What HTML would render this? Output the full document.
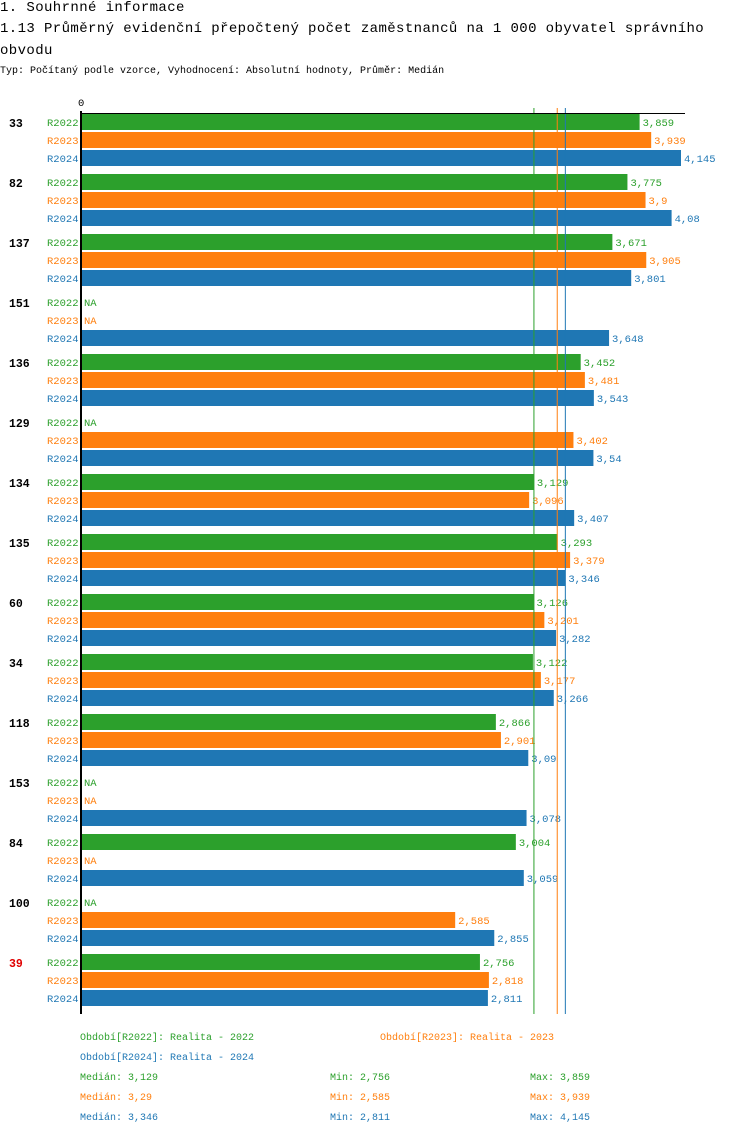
<!DOCTYPE html>
<html><head><meta charset="utf-8"><style>
body{margin:0;background:#fff;width:750px;height:1134px;overflow:hidden;font-family:"Liberation Mono",monospace}
.t{position:absolute;left:0;font-size:14px;letter-spacing:0.4px;color:#000;white-space:nowrap}
</style></head><body>
<div class="t" style="top:0px">1. Souhrnné informace</div>
<div class="t" style="top:21px">1.13 Průměrný evidenční přepočtený počet zaměstnanců na 1 000 obyvatel správního</div>
<div class="t" style="top:43px">obvodu</div>
<div style="position:absolute;left:0;top:66px;font-size:10px;white-space:nowrap">Typ: Počítaný podle vzorce, Vyhodnocení: Absolutní hodnoty, Průměr: Medián</div>
<svg id="chart" width="750" height="1134" style="position:absolute;left:0;top:0" font-family="Liberation Mono, monospace" font-size="10.5"></svg>
<script>
const categories=["33","82","137","151","136","129","134","135","60","34","118","153","84","100","39"];
const series=["R2022","R2023","R2024"];
const v2022=[3.859,3.775,3.671,null,3.452,null,3.129,3.293,3.126,3.122,2.866,null,3.004,null,2.756];
const v2023=[3.939,3.9,3.905,null,3.481,3.402,3.096,3.379,3.201,3.177,2.901,null,null,2.585,2.818];
const v2024=[4.145,4.08,3.801,3.648,3.543,3.54,3.407,3.346,3.282,3.266,3.09,3.078,3.059,2.855,2.811];
const medians=[3.129,3.29,3.346];
const mins=["2,756","2,585","2,811"];
const maxs=["3,859","3,939","4,145"];
const medLabels=["3,129","3,29","3,346"];
const periodNames=["Realita - 2022","Realita - 2023","Realita - 2024"];
const highlighted="39";
const colors=["#2ca02c","#ff7f0e","#1f77b4"];
const data=[v2022,v2023,v2024];
const svg=document.getElementById('chart');
const NS="http://www.w3.org/2000/svg";
const x0=81,maxV=4.145,pxMax=600;
const xs=v=>x0+v/maxV*pxMax;
const gy=i=>114+i*60;
function mk(tag,attrs,txt){const e=document.createElementNS(NS,tag);for(const k in attrs)e.setAttribute(k,attrs[k]);if(txt!=null)e.textContent=txt;svg.appendChild(e);return e;}
const fmt=v=>String(v).replace('.',',');
categories.forEach((c,i)=>{
  const t=mk('text',{x:9,y:gy(i)+13,'font-weight':'bold','font-size':11.5,fill:c===highlighted?'#e00000':'#000'},c);
  
  
  series.forEach((s,k)=>{
    const y=gy(i)+k*18;
    const l=mk('text',{x:47,y:y+12,fill:colors[k]},s);
    
    
    const v=data[k][i];
    if(v==null){
      const n=mk('text',{x:84,y:y+12,fill:colors[k]},'NA');
      
      
    }else{
      const r=mk('rect',{x:x0,y:y,width:xs(v)-x0,height:16,fill:colors[k]});
      
      
      const vl=mk('text',{x:xs(v)+3,y:y+12,fill:colors[k]},fmt(v));
      
      
    }
  });
});
medians.forEach((m,k)=>{
  const ln=mk('line',{x1:xs(m),x2:xs(m),y1:108,y2:1014,stroke:colors[k],'stroke-width':1});
  
  
});
const ax=mk('line',{x1:x0,x2:685,y1:113.5,y2:113.5,stroke:'#000'});


const ay=mk('line',{x1:x0,x2:x0,y1:111,y2:1014,stroke:'#000','stroke-width':2});


const z=mk('text',{x:78,y:106,fill:'#000'},'0');


const legPos=[[80,1040],[380,1040],[80,1060]];
series.forEach((s,k)=>{
  const t=mk('text',{x:legPos[k][0],y:legPos[k][1],fill:colors[k],'font-size':10},'Období['+s+']: '+periodNames[k]);
  
  
  const y=1080+k*20;
  const a=mk('text',{x:80,y:y,fill:colors[k],'font-size':10},'Medián: '+medLabels[k]);
  
  
  const b=mk('text',{x:330,y:y,fill:colors[k],'font-size':10},'Min: '+mins[k]);
  
  
  const d=mk('text',{x:530,y:y,fill:colors[k],'font-size':10},'Max: '+maxs[k]);
  
  
});
</script>
</body></html>
